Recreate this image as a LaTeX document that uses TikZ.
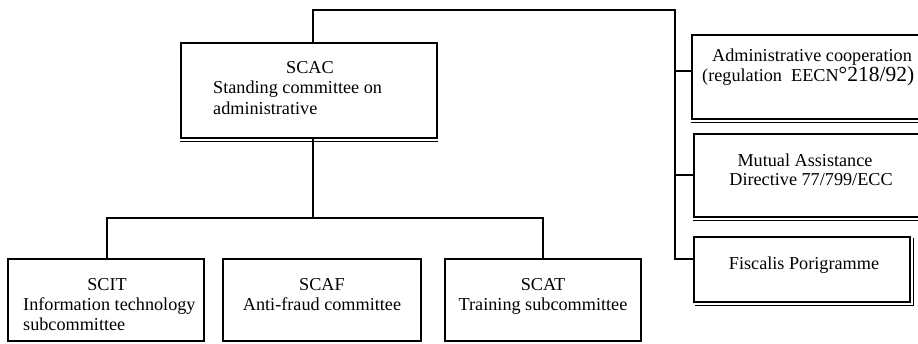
\documentclass[tikz,border=0pt]{standalone}
\usepackage{fontspec}
\setmainfont{Liberation Serif}
\begin{document}
\begin{tikzpicture}[x=1pt,y=-1pt,
  box/.style={draw=black,line width=1.9pt,fill=white,inner sep=0pt},
  link/.style={draw=black,line width=1.9pt},
  shade/.style={draw=black,line width=0.9pt},
  lbl/.style={inner sep=0pt,font=\fontsize{18.2}{20}\selectfont}]
\clip (0,0) rectangle (918,343);
\fill[white] (0,0) rectangle (918,343);
% boxes
\node[box,minimum width=256,minimum height=95] (scac) at (309,90.5) {};
\node[box,minimum width=238,minimum height=84] (admin) at (811,77) {};
\node[box,minimum width=236,minimum height=83] (mutual) at (812,175.5) {};
\node[box,minimum width=216,minimum height=65] (fis) at (802,269.5) {};
\node[box,minimum width=196,minimum height=82] (scit) at (106,300) {};
\node[box,minimum width=198,minimum height=82] (scaf) at (322,300) {};
\node[box,minimum width=196,minimum height=82] (scat) at (543,300) {};
% shadow lines
\draw[shade] ([yshift=-2.6]scac.south west) -- ([yshift=-2.6]scac.south east);
\draw[shade] ([yshift=-2.6]admin.south west) -- ([yshift=-2.6]admin.south east);
\draw[shade] ([yshift=-2.6]mutual.south west) -- ([yshift=-2.6]mutual.south east);
\draw[shade] ([xshift=2,yshift=-2.6]fis.south west) -- ([xshift=2.6,yshift=-2.6]fis.south east) -- ([xshift=2.6,yshift=-2]fis.north east);
% connector coordinates
\coordinate (topl) at (313,10);
\coordinate (topr) at (675,10);
\coordinate (ja) at (692,71);
\coordinate (jm) at (694,175);
\coordinate (jf) at (694,259);
\coordinate (bus) at (313,218);
\coordinate (dl) at (107,259);
\coordinate (dr) at (543,259);
% connectors
\draw[link] (topl |- scac.north) -- (topl) -- (topr) -- (topr |- jf) -- (jf);
\draw[link] (topr |- ja) -- (ja);
\draw[link] (topr |- jm) -- (jm);
\draw[link] (topl |- scac.south) -- (bus);
\draw[link] (dl) -- (dl |- bus) -- (dr |- bus) -- (dr);
% texts
\node[lbl,anchor=base] (t1) at (310,73) {SCAC};
\node[lbl,anchor=base west] (t2) at (213,93) {Standing committee on};
\node[lbl,anchor=base west] (t3) at (213,114) {administrative};
\node[lbl,anchor=base] (t4) at (812,61) {Administrative cooperation};
\node[lbl,anchor=base west] (t5) at (702,81) {(regulation\ \ EECN{\fontsize{21.5}{22}\selectfont°218/92)}};
\node[lbl,anchor=base] (t6) at (805,166) {Mutual Assistance};
\node[lbl,anchor=base] (t7) at (811,185) {Directive 77/799/ECC};
\node[lbl,anchor=base] (t8) at (804,269) {Fiscalis Porigramme};
\node[lbl,anchor=base] (t9) at (107,290) {SCIT};
\node[lbl,anchor=base west] (t10) at (23,310) {Information technology};
\node[lbl,anchor=base west] (t11) at (23,330) {subcommittee};
\node[lbl,anchor=base] (t12) at (322,290) {SCAF};
\node[lbl,anchor=base] (t13) at (322,310) {Anti-fraud committee};
\node[lbl,anchor=base] (t14) at (543,290) {SCAT};
\node[lbl,anchor=base] (t15) at (543,310) {Training subcommittee};
\end{tikzpicture}
\end{document}
